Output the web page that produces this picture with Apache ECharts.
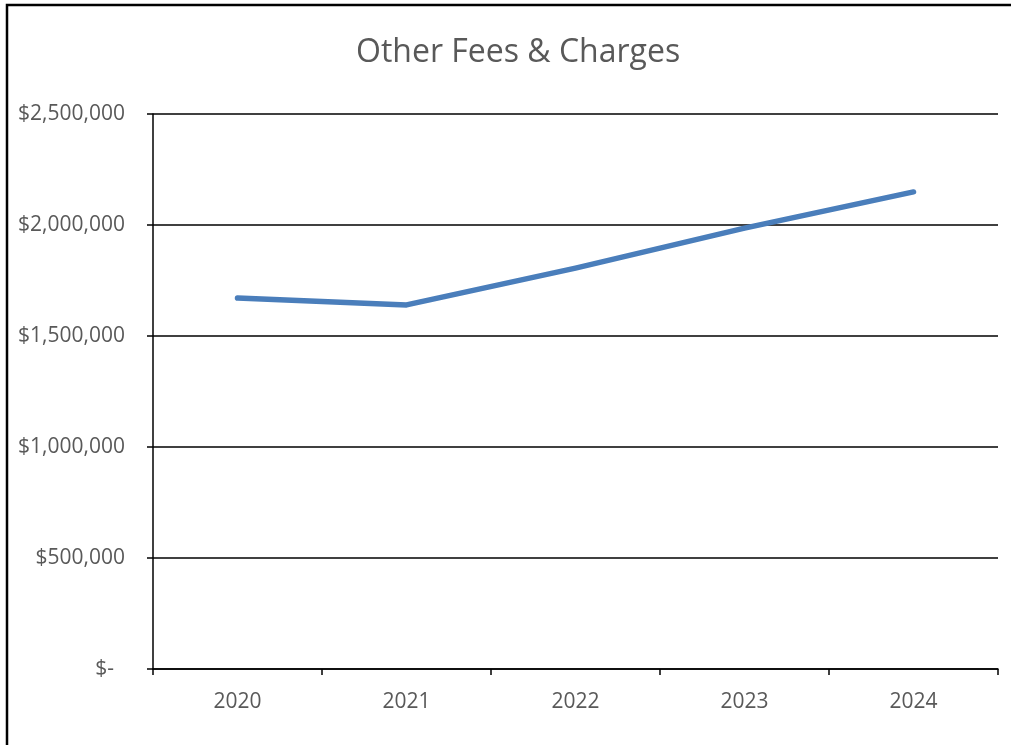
<!DOCTYPE html>
<html>
<head>
<meta charset="utf-8">
<script src="https://cdn.jsdelivr.net/npm/echarts@6/dist/echarts.min.js"></script>
<style>
  html, body { margin: 0; padding: 0; background: #fff; }
  #chart { width: 1011px; height: 745px; }
</style>
</head>
<body>
<div id="chart"></div>
<script>
// data
const years = ['2020', '2021', '2022', '2023', '2024'];
const fees = [1671000, 1640000, 1806000, 1986000, 2149000];

const chart = echarts.init(document.getElementById('chart'));

function money(v) {
  if (v === 0) return '$-  ';
  return '$' + v.toLocaleString('en-US');
}

const option = {
  backgroundColor: '#fff',
  animation: false,
  title: {
    text: 'Other Fees & Charges',
    left: 351,
    top: 32,
    textStyle: {
      color: '#595959',
      fontSize: 32,
      fontWeight: 'normal',
      fontFamily: 'Open Sans'
    }
  },
  graphic: [{
    type: 'rect',
    shape: { x: 7, y: 5, width: 2000, height: 2000 },
    style: { fill: 'none', stroke: '#000', lineWidth: 2.5 },
    silent: true
  }],
  grid: {
    left: 153,
    right: 13,
    top: 114,
    bottom: 76
  },
  xAxis: {
    type: 'category',
    data: years,
    boundaryGap: true,
    axisLine: { lineStyle: { color: '#000', width: 1.5 } },
    axisTick: { show: true, length: 6, lineStyle: { color: '#000', width: 1.5 } },
    axisLabel: {
      color: '#595959',
      fontSize: 21,
      fontFamily: 'Open Sans',
      margin: 23
    },
    splitLine: { show: false }
  },
  yAxis: {
    type: 'value',
    min: 0,
    max: 2500000,
    interval: 500000,
    axisLine: { show: true, lineStyle: { color: '#000', width: 1.5 } },
    axisTick: { show: true, length: 6, lineStyle: { color: '#000', width: 1.5 } },
    axisLabel: {
      color: '#595959',
      fontSize: 21,
      fontFamily: 'Open Sans',
      margin: 28,
      formatter: money
    },
    splitLine: { show: true, lineStyle: { color: '#000', width: 1.5 } }
  },
  series: [{
    type: 'line',
    data: fees,
    showSymbol: false,
    symbol: 'none',
    lineStyle: { color: '#4a7ebb', width: 5.5, cap: 'round', join: 'round' },
    itemStyle: { color: '#4a7ebb' }
  }]
};

chart.setOption(option);
</script>
</body>
</html>
